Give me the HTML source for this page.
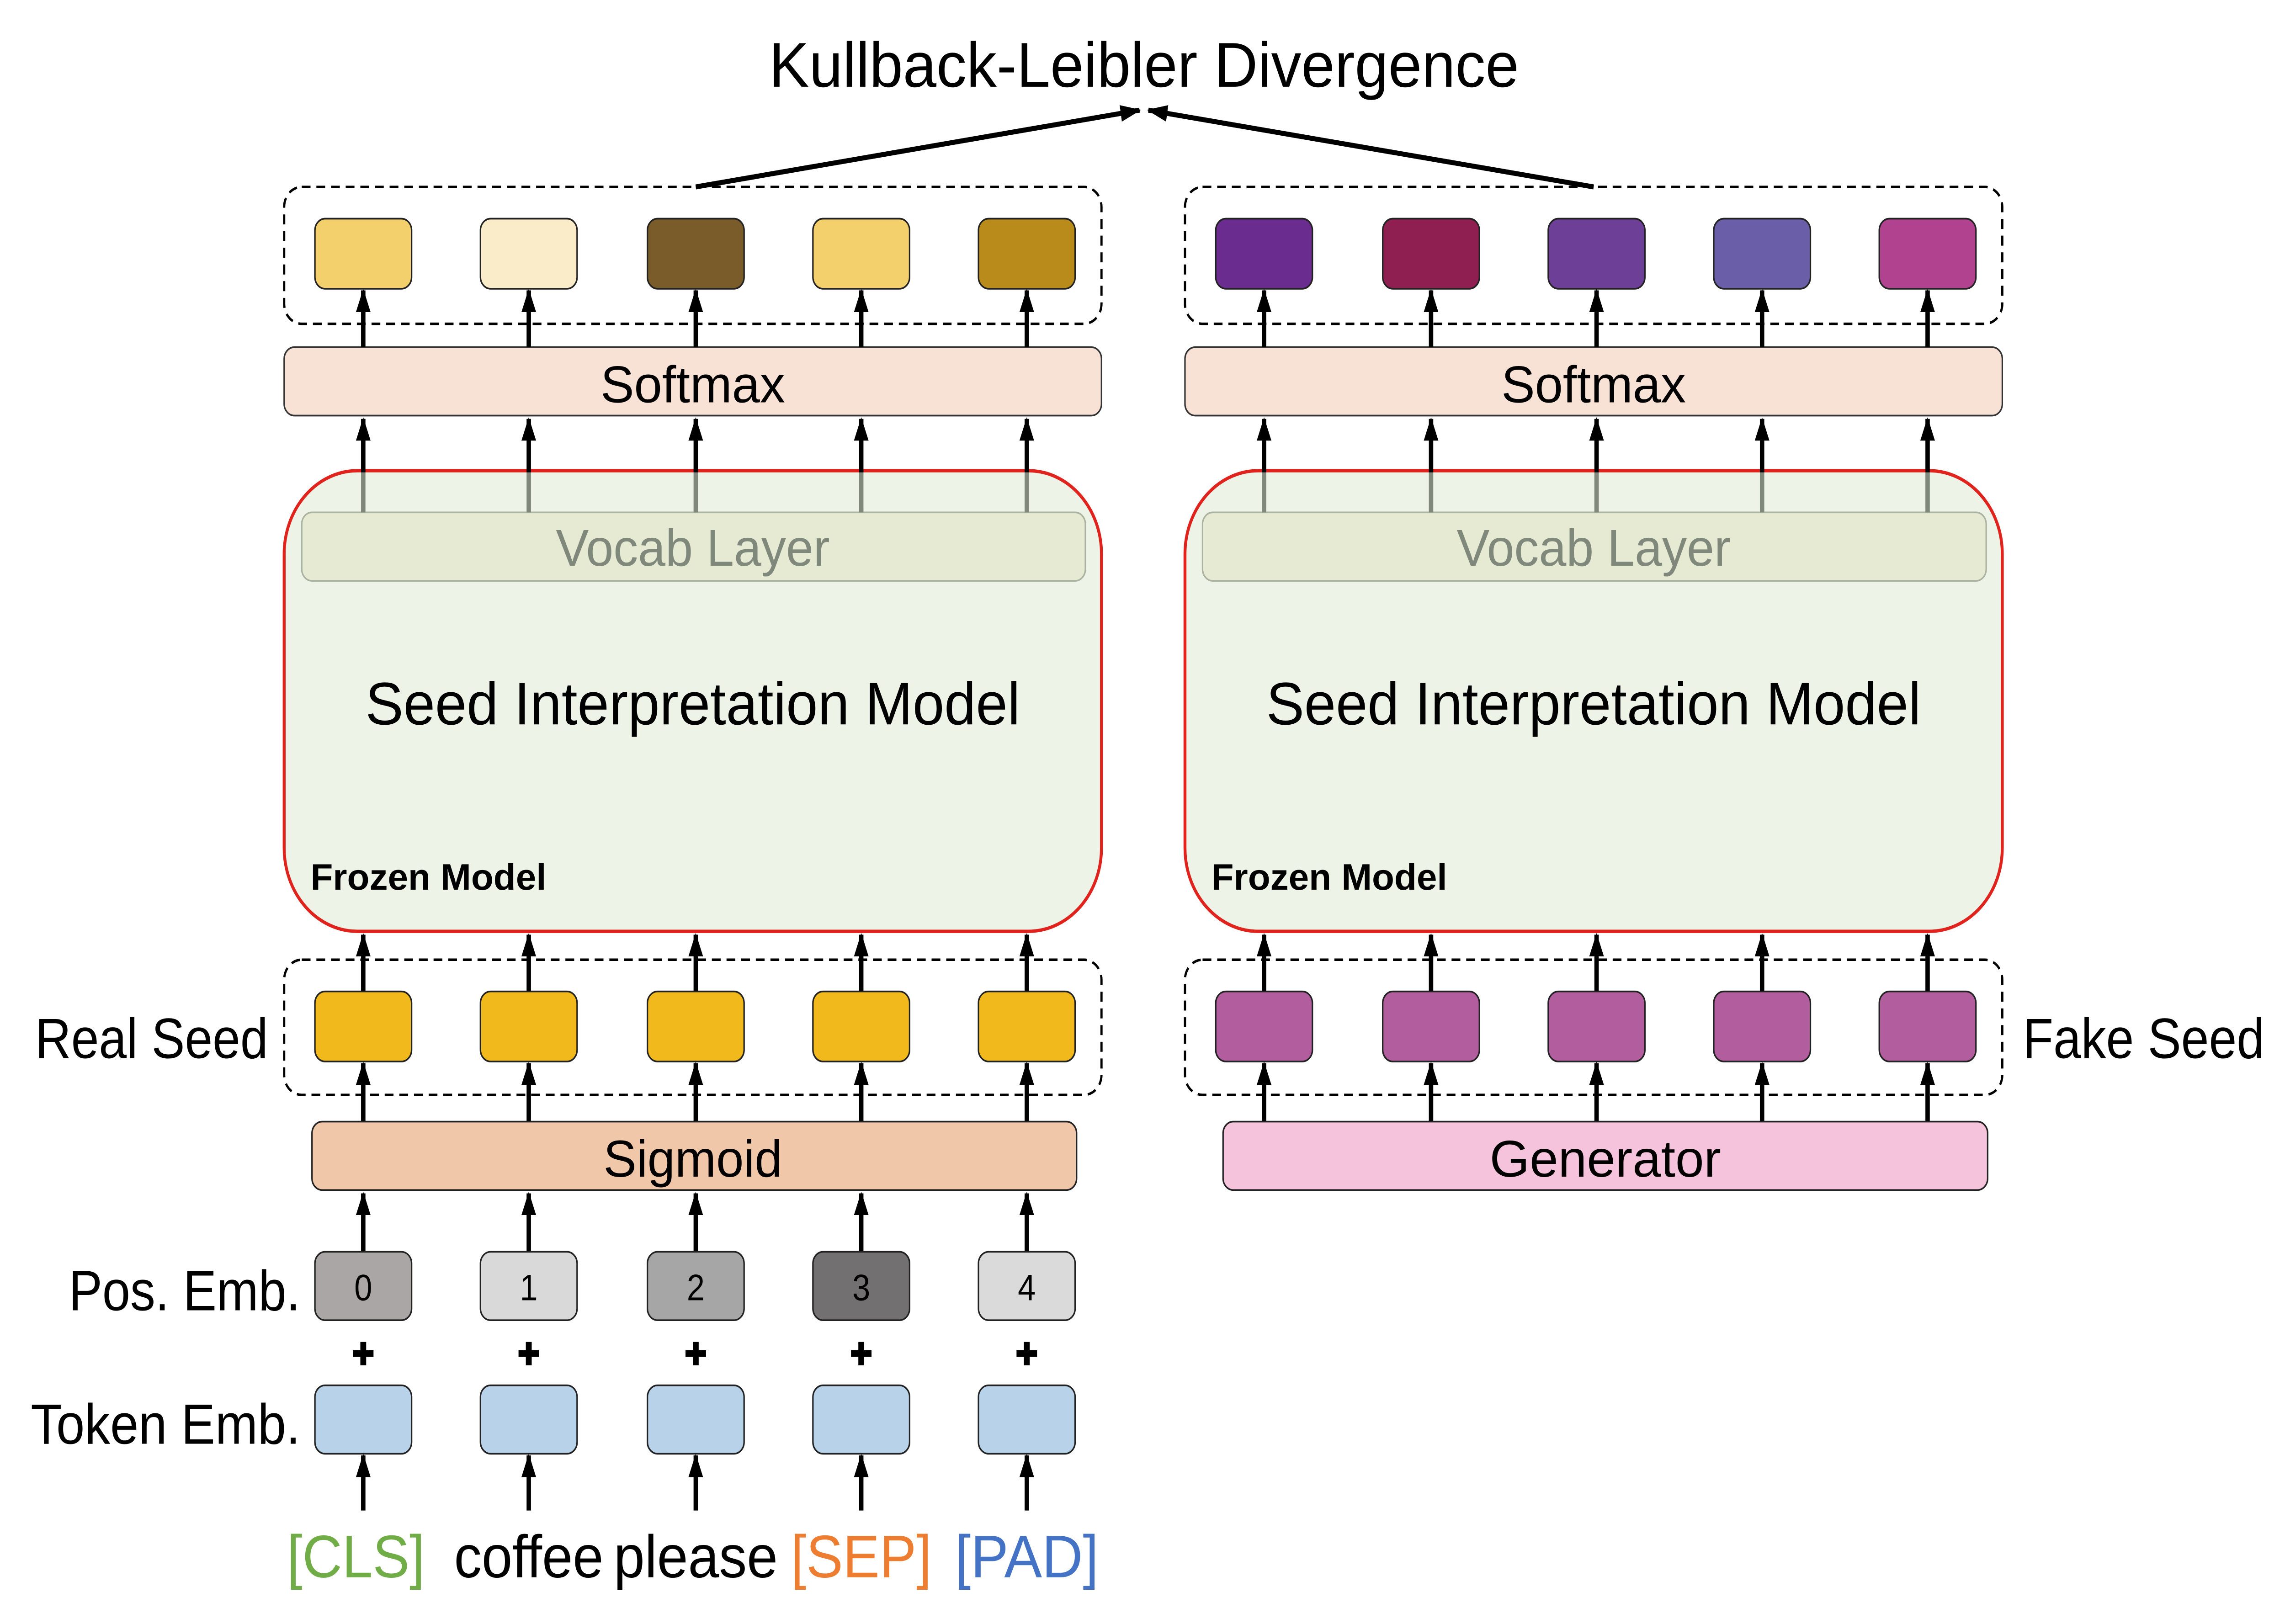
<!DOCTYPE html>
<html><head><meta charset="utf-8"><style>html,body{margin:0;padding:0;background:#fff;width:100%;height:100%;overflow:hidden}svg{display:block;position:fixed;left:0;top:0;width:100vw;height:100vh}</style></head><body>
<svg xmlns="http://www.w3.org/2000/svg" viewBox="0 0 1560 973" preserveAspectRatio="none">
<defs>
<marker id="a" markerUnits="userSpaceOnUse" markerWidth="14" markerHeight="12" refX="13" refY="5" orient="auto" viewBox="0 0 14 10"><path d="M0,0 L14,5 L0,10 Z" fill="#000"/></marker>
</defs>
<rect width="1560" height="973" fill="#fff"/>
<g font-family="Liberation Sans, sans-serif">
<text x="781" y="52" font-size="38" text-anchor="middle" textLength="512" lengthAdjust="spacingAndGlyphs">Kullback-Leibler Divergence</text>
<line x1="475" y1="112" x2="778" y2="66" stroke="#000" stroke-width="3" marker-end="url(#a)"/>
<line x1="1088" y1="112" x2="784" y2="66" stroke="#000" stroke-width="3" marker-end="url(#a)"/>

<g stroke="#000" stroke-width="1.5" stroke-dasharray="6,4" fill="none">
<rect x="194" y="112" width="558" height="82" rx="12"/>
<rect x="809" y="112" width="558" height="82" rx="12"/>
<rect x="194" y="575" width="558" height="81" rx="12"/>
<rect x="809" y="575" width="558" height="81" rx="12"/>
</g>
<g stroke="#333" stroke-width="1" fill="#f8e2d6">
<rect x="194" y="208" width="558" height="41" rx="7"/>
<rect x="809" y="208" width="558" height="41" rx="7"/>
</g>
<text x="473" y="241" font-size="31" text-anchor="middle" textLength="126" lengthAdjust="spacingAndGlyphs">Softmax</text>
<text x="1088" y="241" font-size="31" text-anchor="middle" textLength="126" lengthAdjust="spacingAndGlyphs">Softmax</text>
<g fill="#edf3e6" stroke="#e0231c" stroke-width="2">
<rect x="194" y="282" width="558" height="276" rx="50"/>
<rect x="809" y="282" width="558" height="276" rx="50"/>
</g>
<g fill="#e6ead3" stroke="#aab3a0" stroke-width="1">
<rect x="206" y="307" width="535" height="41" rx="7"/>
<rect x="821" y="307" width="535" height="41" rx="7"/>
</g>
<g font-size="31" fill="#7f887b" text-anchor="middle">
<text x="473" y="339" textLength="187" lengthAdjust="spacingAndGlyphs">Vocab Layer</text>
<text x="1088" y="339" textLength="187" lengthAdjust="spacingAndGlyphs">Vocab Layer</text>
</g>
<g font-size="36" text-anchor="middle">
<text x="473" y="434" textLength="447" lengthAdjust="spacingAndGlyphs">Seed Interpretation Model</text>
<text x="1088" y="434" textLength="447" lengthAdjust="spacingAndGlyphs">Seed Interpretation Model</text>
</g>
<g font-size="22" font-weight="bold">
<text x="212" y="533" textLength="161" lengthAdjust="spacingAndGlyphs">Frozen Model</text>
<text x="827" y="533" textLength="161" lengthAdjust="spacingAndGlyphs">Frozen Model</text>
</g>

<g stroke="#7f887b" stroke-width="3">
<path d="M248,307V283M361,307V283M475,307V283M588,307V283M701,307V283M863,307V283M977,307V283M1090,307V283M1203,307V283M1316,307V283"/>
</g>
<g stroke="#000" stroke-width="3" marker-end="url(#a)">
<line x1="248" y1="283" x2="248" y2="251"/><line x1="361" y1="283" x2="361" y2="251"/><line x1="475" y1="283" x2="475" y2="251"/><line x1="588" y1="283" x2="588" y2="251"/><line x1="701" y1="283" x2="701" y2="251"/>
<line x1="863" y1="283" x2="863" y2="251"/><line x1="977" y1="283" x2="977" y2="251"/><line x1="1090" y1="283" x2="1090" y2="251"/><line x1="1203" y1="283" x2="1203" y2="251"/><line x1="1316" y1="283" x2="1316" y2="251"/>
<line x1="248" y1="208" x2="248" y2="174"/><line x1="361" y1="208" x2="361" y2="174"/><line x1="475" y1="208" x2="475" y2="174"/><line x1="588" y1="208" x2="588" y2="174"/><line x1="701" y1="208" x2="701" y2="174"/>
<line x1="863" y1="208" x2="863" y2="174"/><line x1="977" y1="208" x2="977" y2="174"/><line x1="1090" y1="208" x2="1090" y2="174"/><line x1="1203" y1="208" x2="1203" y2="174"/><line x1="1316" y1="208" x2="1316" y2="174"/>
<line x1="248" y1="594" x2="248" y2="560"/><line x1="361" y1="594" x2="361" y2="560"/><line x1="475" y1="594" x2="475" y2="560"/><line x1="588" y1="594" x2="588" y2="560"/><line x1="701" y1="594" x2="701" y2="560"/>
<line x1="863" y1="594" x2="863" y2="560"/><line x1="977" y1="594" x2="977" y2="560"/><line x1="1090" y1="594" x2="1090" y2="560"/><line x1="1203" y1="594" x2="1203" y2="560"/><line x1="1316" y1="594" x2="1316" y2="560"/>
<line x1="248" y1="672" x2="248" y2="637"/><line x1="361" y1="672" x2="361" y2="637"/><line x1="475" y1="672" x2="475" y2="637"/><line x1="588" y1="672" x2="588" y2="637"/><line x1="701" y1="672" x2="701" y2="637"/>
<line x1="863" y1="672" x2="863" y2="637"/><line x1="977" y1="672" x2="977" y2="637"/><line x1="1090" y1="672" x2="1090" y2="637"/><line x1="1203" y1="672" x2="1203" y2="637"/><line x1="1316" y1="672" x2="1316" y2="637"/>
<line x1="248" y1="750" x2="248" y2="715"/><line x1="361" y1="750" x2="361" y2="715"/><line x1="475" y1="750" x2="475" y2="715"/><line x1="588" y1="750" x2="588" y2="715"/><line x1="701" y1="750" x2="701" y2="715"/>
<line x1="248" y1="905" x2="248" y2="872"/><line x1="361" y1="905" x2="361" y2="872"/><line x1="475" y1="905" x2="475" y2="872"/><line x1="588" y1="905" x2="588" y2="872"/><line x1="701" y1="905" x2="701" y2="872"/>
</g>

<g stroke="#222" stroke-width="1">
<rect x="215" y="131" width="66" height="42" rx="7" fill="#f4d06c"/>
<rect x="328" y="131" width="66" height="42" rx="7" fill="#faecc9"/>
<rect x="442" y="131" width="66" height="42" rx="7" fill="#7a5c2a"/>
<rect x="555" y="131" width="66" height="42" rx="7" fill="#f4d06c"/>
<rect x="668" y="131" width="66" height="42" rx="7" fill="#b88b1a"/>
<rect x="830" y="131" width="66" height="42" rx="7" fill="#6a2d8f"/>
<rect x="944" y="131" width="66" height="42" rx="7" fill="#8e1f50"/>
<rect x="1057" y="131" width="66" height="42" rx="7" fill="#6d3f97"/>
<rect x="1170" y="131" width="66" height="42" rx="7" fill="#6b5ea8"/>
<rect x="1283" y="131" width="66" height="42" rx="7" fill="#b04290"/>
<rect x="215" y="594" width="66" height="42" rx="7" fill="#f2b91d"/>
<rect x="328" y="594" width="66" height="42" rx="7" fill="#f2b91d"/>
<rect x="442" y="594" width="66" height="42" rx="7" fill="#f2b91d"/>
<rect x="555" y="594" width="66" height="42" rx="7" fill="#f2b91d"/>
<rect x="668" y="594" width="66" height="42" rx="7" fill="#f2b91d"/>
<rect x="830" y="594" width="66" height="42" rx="7" fill="#b25e9e"/>
<rect x="944" y="594" width="66" height="42" rx="7" fill="#b25e9e"/>
<rect x="1057" y="594" width="66" height="42" rx="7" fill="#b25e9e"/>
<rect x="1170" y="594" width="66" height="42" rx="7" fill="#b25e9e"/>
<rect x="1283" y="594" width="66" height="42" rx="7" fill="#b25e9e"/>
<rect x="213" y="672" width="522" height="41" rx="7" fill="#f1c7a9"/>
<rect x="835" y="672" width="522" height="41" rx="7" fill="#f5c4dc"/>
<rect x="215" y="750" width="66" height="41" rx="7" fill="#aaa6a5"/>
<rect x="328" y="750" width="66" height="41" rx="7" fill="#d9d9d9"/>
<rect x="442" y="750" width="66" height="41" rx="7" fill="#a6a6a6"/>
<rect x="555" y="750" width="66" height="41" rx="7" fill="#727070"/>
<rect x="668" y="750" width="66" height="41" rx="7" fill="#dadada"/>
<rect x="215" y="830" width="66" height="41" rx="7" fill="#b8d3e9"/>
<rect x="328" y="830" width="66" height="41" rx="7" fill="#b8d3e9"/>
<rect x="442" y="830" width="66" height="41" rx="7" fill="#b8d3e9"/>
<rect x="555" y="830" width="66" height="41" rx="7" fill="#b8d3e9"/>
<rect x="668" y="830" width="66" height="41" rx="7" fill="#b8d3e9"/>
</g>
<text x="473" y="705" font-size="31" text-anchor="middle" textLength="122" lengthAdjust="spacingAndGlyphs">Sigmoid</text>
<text x="1096" y="705" font-size="31" text-anchor="middle" textLength="158" lengthAdjust="spacingAndGlyphs">Generator</text>
<g font-size="22" text-anchor="middle">
<text x="248" y="779">0</text><text x="361" y="779">1</text><text x="475" y="779">2</text><text x="588" y="779">3</text><text x="701" y="779">4</text>
</g>
<g stroke="#000" stroke-width="4">
<path d="M241,811h14M248,804v14M354,811h14M361,804v14M468,811h14M475,804v14M581,811h14M588,804v14M694,811h14M701,804v14"/>
</g>
<g font-size="34">
<text x="183" y="634" text-anchor="end" textLength="159" lengthAdjust="spacingAndGlyphs">Real Seed</text>
<text x="205" y="785" text-anchor="end" textLength="158" lengthAdjust="spacingAndGlyphs">Pos. Emb.</text>
<text x="205" y="865" text-anchor="end" textLength="184" lengthAdjust="spacingAndGlyphs">Token Emb.</text>
<text x="1381" y="634" textLength="165" lengthAdjust="spacingAndGlyphs">Fake Seed</text>
</g>
<g font-size="36" text-anchor="middle">
<text x="243" y="945" fill="#70ad47" textLength="94" lengthAdjust="spacingAndGlyphs">[CLS]</text>
<text x="361" y="945" textLength="102" lengthAdjust="spacingAndGlyphs">coffee</text>
<text x="475" y="945" textLength="112" lengthAdjust="spacingAndGlyphs">please</text>
<text x="588" y="945" fill="#ed7d31" textLength="96" lengthAdjust="spacingAndGlyphs">[SEP]</text>
<text x="701" y="945" fill="#4472c4" textLength="98" lengthAdjust="spacingAndGlyphs">[PAD]</text>
</g>
</g>
</svg>
</body></html>
